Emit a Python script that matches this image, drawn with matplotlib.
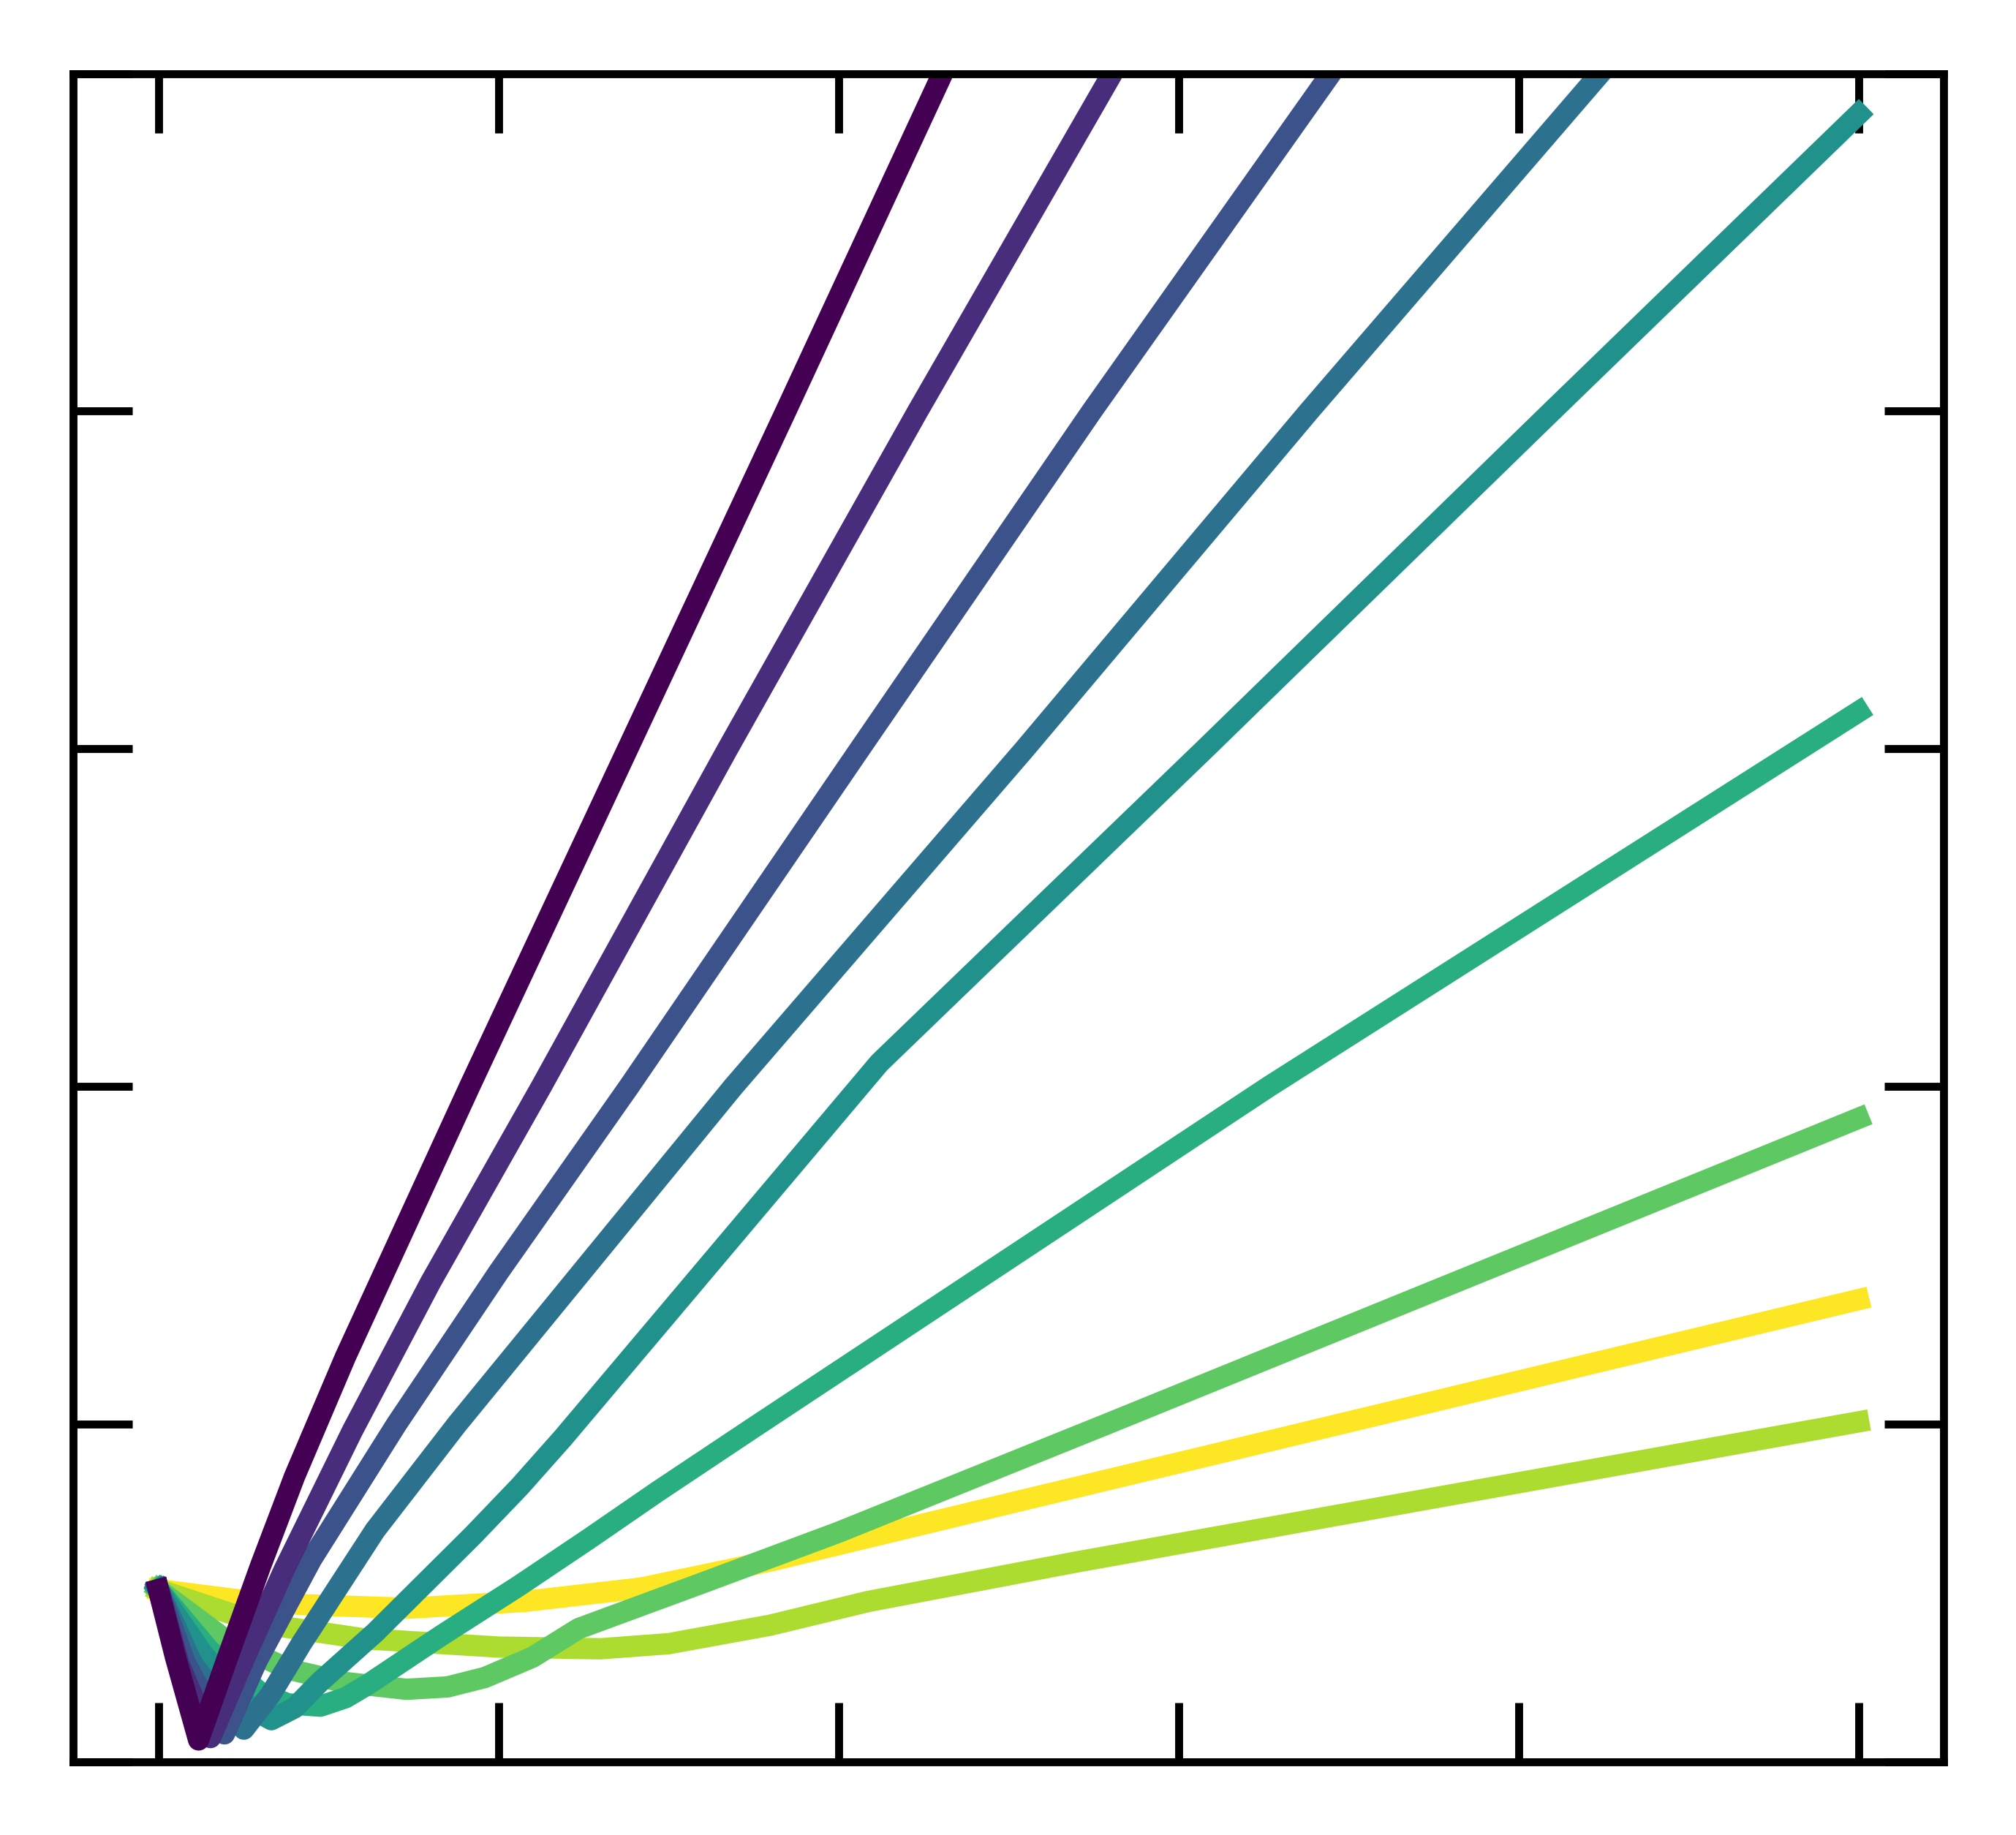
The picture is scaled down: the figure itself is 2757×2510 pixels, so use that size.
# libs
import numpy as np
import matplotlib
matplotlib.use('Agg')
import matplotlib.pyplot as plt


# dados (eixo x de 0 a 5, eixo y de 0 a 5, linhas cortadas no topo)
x_0 = [0, 0.05, 0.118, 0.2, 0.3, 0.4, 0.55, 0.915, 1.38, 1.845, 2.306, 5.0]
y_0 = [0.51, 0.31, 0.065, 0.3, 0.58, 0.845, 1.2, 2.0, 3.0, 4.0, 5.0, 10.8]

x_1 = [0, 0.06, 0.153, 0.25, 0.37, 0.57, 0.8, 1.126, 1.674, 2.233, 2.805, 5.0]
y_1 = [0.51, 0.29, 0.072, 0.3, 0.57, 0.98, 1.42, 2.0, 3.0, 4.0, 5.0, 8.84]

x_2 = [0, 0.08, 0.194, 0.29, 0.45, 0.70, 1.0, 1.384, 2.063, 2.745, 3.448, 5.0]
y_2 = [0.51, 0.29, 0.083, 0.3, 0.6, 1.0, 1.45, 2.0, 3.0, 4.0, 5.0, 7.2]

x_3 = [0, 0.1, 0.251, 0.33, 0.42, 0.637, 0.878, 1.691, 2.548, 3.384, 4.24, 5.0]
y_3 = [0.51, 0.29, 0.097, 0.2, 0.35, 0.686, 1.0, 2.0, 3.0, 4.0, 5.0, 5.89]

x_4 = [0, 0.13, 0.27, 0.332, 0.4, 0.476, 0.637, 0.781, 0.925, 1.063, 1.19, 2.12, 3.078, 4.098, 5.0]
y_4 = [0.51, 0.32, 0.16, 0.125, 0.16, 0.238, 0.383, 0.527, 0.671, 0.816, 0.96, 2.07, 3.0, 4.0, 4.88]

x_5 = [0, 0.15, 0.3, 0.38, 0.476, 0.55, 0.614, 0.833, 1.058, 1.265, 1.467, 1.75, 3.266, 5.0]
y_5 = [0.51, 0.33, 0.205, 0.172, 0.165, 0.19, 0.228, 0.375, 0.52, 0.66, 0.8, 0.99, 2.0, 3.11]

x_6 = [0, 0.2, 0.384, 0.55, 0.729, 0.85, 0.96, 1.1, 1.236, 1.6, 2.0, 2.788, 5.0]
y_6 = [0.51, 0.36, 0.274, 0.235, 0.215, 0.222, 0.25, 0.31, 0.395, 0.53, 0.68, 1.0, 1.906]

x_7 = [0, 0.3, 0.6, 1.0, 1.3, 1.5, 1.8, 2.087, 2.7, 5.0]
y_7 = [0.51, 0.41, 0.365, 0.34, 0.335, 0.35, 0.405, 0.475, 0.592, 1.007]

x_8 = [0, 0.234, 0.44, 0.73, 1.075, 1.42, 1.8, 2.5, 3.2, 4.2, 5.0]
y_8 = [0.51, 0.48, 0.465, 0.455, 0.475, 0.515, 0.595, 0.765, 0.934, 1.176, 1.369]

xs = [x_0, x_1, x_2, x_3, x_4, x_5, x_6, x_7, x_8]
ys = [y_0, y_1, y_2, y_3, y_4, y_5, y_6, y_7, y_8]

x_ticks = [0, 1, 2, 3, 4, 5]
y_ticks = [0, 1, 2, 3, 4, 5]


# figura
dpi = 300
fig = plt.figure(figsize=(2757 / dpi, 2510 / dpi), dpi=dpi)
ax = fig.add_axes([0.03645, 0.03984, 0.92764, 0.92012])

cores = plt.cm.viridis(np.linspace(0, 1, len(xs)))

# desenha do amarelo para o roxo (roxo fica por cima)
for i in range(len(xs) - 1, -1, -1):
  ax.plot(xs[i], ys[i], color=cores[i], linewidth=7)

ax.set_xlim(-0.25, 5.25)
ax.set_ylim(0, 5)
ax.set_xticks(x_ticks)
ax.set_yticks(y_ticks)

ax.tick_params(axis='both', direction='in', length=19.5, width=2.6,
               top=True, right=True, labelbottom=False, labelleft=False)
for sp in ax.spines.values():
  sp.set_linewidth(2.6)

fig.savefig('out.png', dpi=dpi)
